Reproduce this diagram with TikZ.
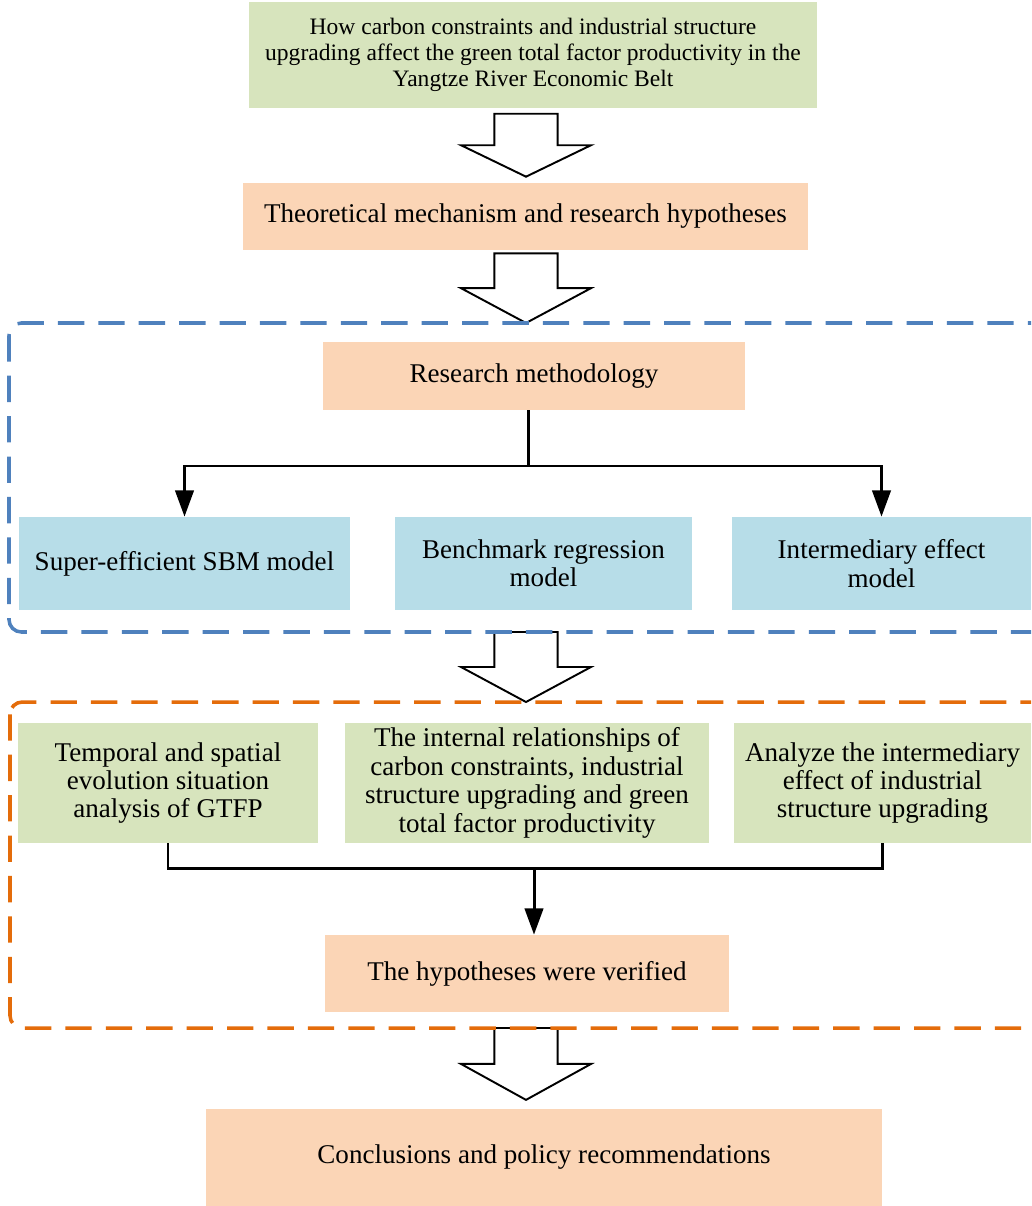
\documentclass[tikz,border=0pt]{standalone}
\usepackage{fontspec}
\setmainfont{Liberation Serif}
\usetikzlibrary{arrows.meta,calc}

\definecolor{boxgreen}{HTML}{D7E4BD}
\definecolor{boxpink}{HTML}{FBD5B6}
\definecolor{boxblue}{HTML}{B7DDE8}
\definecolor{frameblue}{HTML}{4F81BD}
\definecolor{frameorange}{HTML}{E46C0A}

\tikzset{
  box/.style={inner sep=0pt, align=center, font=\fontsize{15.4}{16.2}\selectfont},
  greenbox/.style={box, fill=boxgreen},
  pinkbox/.style={box, fill=boxpink},
  bluebox/.style={box, fill=boxblue},
  link/.style={line width=1.7pt},
  conn/.style={link, -{Triangle[length=15pt,width=10.5pt]}},
  frame/.style={line width=2pt, dash pattern=on 15pt off 8pt, rounded corners=7pt},
  hollow/.style={draw, line width=1.1pt, fill=white, line join=miter,
    to path={let \p1=(\tikztostart), \p2=(\tikztotarget), \p3=($(\p1)!.5!(\p2)$) in
      (\x1-18pt,\y1) -- (\x1+18pt,\y1) -- (\x1+18pt,\y3) -- (\x1+37pt,\y3)
      -- (\x1,\y2) -- (\x1-37pt,\y3) -- (\x1-18pt,\y3) -- cycle}}
}

\begin{document}
\begin{tikzpicture}[x=0.02cm, y=-0.02cm]
        \useasboundingbox (0,0) rectangle (1031,1206);
        \clip (0,0) rectangle (1031,1206);

        % the boxes
        \node[greenbox, minimum width=11.36cm, minimum height=2.14cm,
              font=\fontsize{13.4}{14.9}\selectfont] (title) at (533,55)
             {How carbon constraints and industrial structure\\
              upgrading affect the green total factor productivity in the\\
              Yangtze River Economic Belt};
        \node[pinkbox, minimum width=11.3cm, minimum height=1.34cm] (theory) at (525.5,216.5)
             {Theoretical mechanism and research hypotheses};
        \node[pinkbox, minimum width=8.44cm, minimum height=1.36cm] (method) at (534,376)
             {Research methodology};
        \node[bluebox, minimum width=6.62cm, minimum height=1.86cm] (sbm) at (184.5,563.5)
             {Super-efficient SBM model};
        \node[bluebox, minimum width=5.94cm, minimum height=1.86cm] (bench) at (543.5,563.5)
             {Benchmark regression\\ model};
        \node[bluebox, minimum width=5.98cm, minimum height=1.86cm] (effect) at (881.5,563.5)
             {Intermediary effect\\ model};
        \node[greenbox, minimum width=6cm, minimum height=2.4cm] (gtfp) at (168,783)
             {Temporal and spatial\\ evolution situation\\ analysis of GTFP};
        \node[greenbox, minimum width=7.28cm, minimum height=2.4cm] (relation) at (527,783)
             {The internal relationships of\\ carbon constraints, industrial\\
              structure upgrading and green\\ total factor productivity};
        \node[greenbox, minimum width=5.94cm, minimum height=2.4cm] (mediate) at (882.5,783)
             {Analyze the intermediary\\ effect of industrial\\ structure upgrading};
        \node[pinkbox, minimum width=8.08cm, minimum height=1.54cm] (verified) at (527,973.5)
             {The hypotheses were verified};
        \node[pinkbox, minimum width=13.52cm, minimum height=1.94cm] (conclusion) at (544,1157.5)
             {Conclusions and policy recommendations};

        % corners of the dashed frames and the axis of the big arrows
        \coordinate (bf nw) at (9,323);
        \coordinate (bf se) at (1045,632);
        \coordinate (of nw) at (10,702);
        \coordinate (of se) at (1045,1028);
        \coordinate (axis) at (526,0);

        % the big hollow arrows
        \draw[hollow] ([yshift=-2.8pt]title.south -| axis) to ([yshift=3.4pt]theory.north -| axis);
        \draw[hollow] ([yshift=-1.7pt]theory.south -| axis) to (bf nw -| axis);
        \draw[hollow] (bf se -| axis) to (of nw -| axis);
        \draw[hollow] (of se -| axis) to ([yshift=5pt]conclusion.north -| axis);

        % the dashed frames
        \draw[frame, draw=frameblue] (bf nw) rectangle (bf se);
        \draw[frame, draw=frameorange] (of nw) rectangle (of se);

        % split below the methodology
        \coordinate (mfork) at (528,466);
        \draw[link] (mfork |- method.south) -- (mfork);
        \draw[conn] (mfork) -| (sbm.north);
        \draw[conn] (mfork) -| (effect.north);

        % join above the verified hypotheses
        \coordinate (hfork) at (534,868);
        \draw[link] (gtfp.south) |- (hfork) -| (mediate.south);
        \draw[conn] (hfork) -- (hfork |- verified.north);

    \end{tikzpicture}
\end{document}
